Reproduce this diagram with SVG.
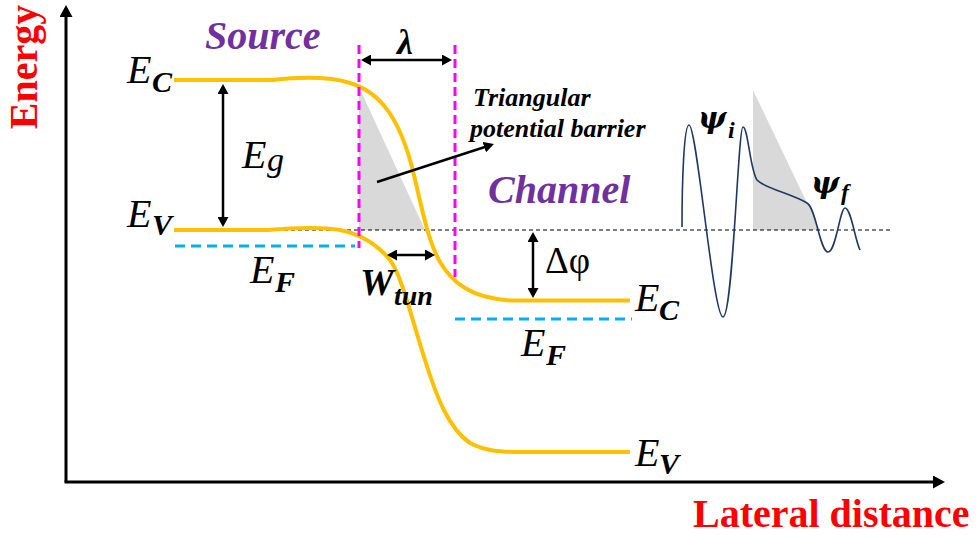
<svg xmlns="http://www.w3.org/2000/svg" width="979" height="539" viewBox="0 0 979 539">
<style>
.band{fill:none;stroke:#FFC000;stroke-width:4;stroke-linecap:butt}
.ef{fill:none;stroke:#00B0F0;stroke-width:3;stroke-dasharray:10 6}
.mag{fill:none;stroke:#FF00FF;stroke-width:3;stroke-dasharray:9 5}
.dim{fill:none;stroke:#000;stroke-width:2.5}
.m{font-family:"Liberation Serif","Times New Roman",serif;fill:#000}
.e{font-style:italic;font-size:40px}
.s{font-style:italic;font-weight:bold;font-size:30px}
.ttl{font-family:"Liberation Serif","Times New Roman",serif;font-weight:bold;font-style:italic;font-size:40px;fill:#7030A0}
.ax{font-family:"Liberation Serif","Times New Roman",serif;font-weight:bold;font-size:40px;fill:#FF0000}
.psi{font-family:"DejaVu Serif","Liberation Serif",serif;font-weight:bold;font-style:italic;fill:#000}
.gray{fill:#D9D9D9}
</style>
<defs>
<marker id="ah" viewBox="0 0 10 11" markerUnits="userSpaceOnUse" markerWidth="10" markerHeight="11" refX="7" refY="5.5" orient="auto-start-reverse">
<path d="M0,0 L10,5.5 L0,11 z" fill="#000"/>
</marker>
<marker id="axh" viewBox="0 0 12 13" markerUnits="userSpaceOnUse" markerWidth="12" markerHeight="13" refX="9" refY="6.5" orient="auto">
<path d="M0,0 L12,6.5 L0,13 z" fill="#000"/>
</marker>
</defs>

<g id="axes">
<path d="M66,482 L66,8" stroke="#000" stroke-width="3" fill="none" marker-end="url(#axh)"/>
<path d="M64.5,482 L942,482" stroke="#000" stroke-width="3" fill="none" marker-end="url(#axh)"/>
<text class="ax" transform="translate(37,67) rotate(-90)" text-anchor="middle">Energy</text>
<text class="ax" x="693" y="527">Lateral distance</text>
</g>

<g id="barrier-left">
<path class="gray" d="M359,87 L359,230 L425,230 z"/>
</g>
<g id="barrier-right">
<path class="gray" d="M753,90 L753,230 L820,230 z"/>
</g>

<g id="reference-line">
<path d="M263,230 L890,230" stroke="#000" stroke-width="1.2" stroke-dasharray="4 3" fill="none"/>
</g>

<g id="bands">
<path id="ec" class="band" d="M174,80 H272 C300,77 328,76 350,83 C380,92 398,118 410,160 C420,195 425,235 440,262 C452,282 470,298 510,300.5 H630"/>
<path id="ev" class="band" d="M174,230 H268 C292,228 322,227 340,230 C360,234 376,243 390,260 C402,276 412,320 425,360 C436,395 448,428 470,443 C485,451 500,452 520,452 H630"/>
</g>

<g id="fermi">
<path class="ef" d="M175,246 H355"/>
<path class="ef" d="M455,319 H632"/>
</g>

<g id="limits">
<path class="mag" d="M359,45 V248"/>
<path class="mag" d="M455,45 V277"/>
</g>

<g id="connectors">
<path class="dim" d="M223,87 V224" marker-start="url(#ah)" marker-end="url(#ah)"/>
<path class="dim" d="M364,60 H449" marker-start="url(#ah)" marker-end="url(#ah)"/>
<path class="dim" d="M390,255 H432" marker-start="url(#ah)" marker-end="url(#ah)"/>
<path class="dim" d="M533,235 V295" marker-start="url(#ah)" marker-end="url(#ah)"/>
<path class="dim" d="M377,182 L491,145" marker-end="url(#ah)"/>
</g>

<g id="wave">
<path d="M682,227 C682,180 684,125 689,125 C697,125 713,317 723,317 C733,317 738,127 743,127 C748,127 750,170 757,180 C764,188 792,194 807,203 C816,208 820,252 828,252 C836,252 840,208 845,208 C851,208 855,240 860,250" fill="none" stroke="#1F3864" stroke-width="1.6"/>
</g>

<g id="labels">
<text class="ttl" x="205" y="49">Source</text>
<text class="ttl" x="488" y="203">Channel</text>
<text class="m" x="397" y="54" font-size="36" font-weight="bold" font-style="italic">λ</text>

<text class="m" x="127" y="83"><tspan class="e">E</tspan><tspan class="s" x="152" y="92">C</tspan></text>
<text class="m" x="127" y="227"><tspan class="e">E</tspan><tspan class="s" x="152" y="235">V</tspan></text>
<text class="m" x="242" y="168"><tspan class="e">E</tspan><tspan font-style="italic" font-size="34" x="267" y="171">g</tspan></text>
<text class="m" x="250" y="283"><tspan class="e">E</tspan><tspan class="s" x="275" y="292">F</tspan></text>
<text class="m" x="360" y="295"><tspan font-weight="bold" font-style="italic" font-size="38">W</tspan><tspan font-weight="bold" font-style="italic" font-size="28" x="394" y="305">tun</tspan></text>
<text class="m" x="545" y="273" font-size="37">Δφ</text>
<text class="m" x="635" y="311"><tspan class="e">E</tspan><tspan class="s" x="659" y="320">C</tspan></text>
<text class="m" x="521" y="356"><tspan class="e">E</tspan><tspan class="s" x="546" y="365">F</tspan></text>
<text class="m" x="635" y="466"><tspan class="e">E</tspan><tspan class="s" x="659" y="474">V</tspan></text>

<text class="m" font-weight="bold" font-style="italic" font-size="26"><tspan x="473" y="106">Triangular</tspan><tspan x="470" y="137">potential barrier</tspan></text>

<text class="psi" x="698" y="128" font-size="30">ψ<tspan class="m" font-weight="bold" font-style="italic" font-size="24" x="728" y="138">i</tspan></text>
<text class="psi" x="811" y="193" font-size="30">ψ<tspan class="m" font-weight="bold" font-style="italic" font-size="24" x="841" y="200">f</tspan></text>
</g>
</svg>
